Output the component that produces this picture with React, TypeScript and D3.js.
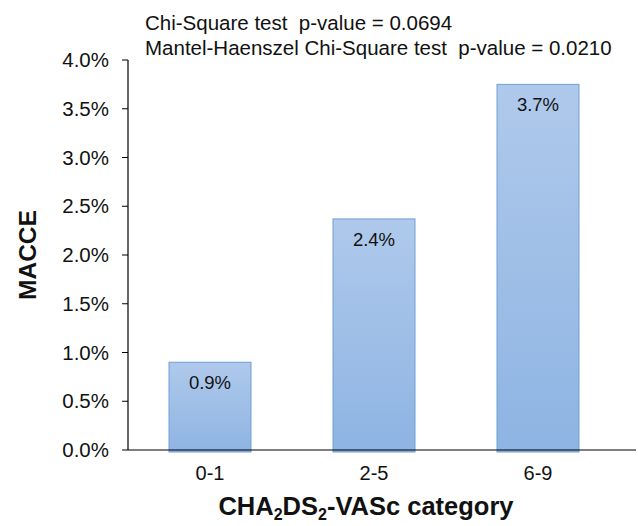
import React from "react";
import * as d3 from "d3";

const categories = ["0-1", "2-5", "6-9"];
const values = [0.009, 0.0237, 0.0375];
const valueLabels = ["0.9%", "2.4%", "3.7%"];
const yTicks = [0, 0.005, 0.01, 0.015, 0.02, 0.025, 0.03, 0.035, 0.04];
const headerLines = [
  "Chi-Square test  p-value = 0.0694",
  "Mantel-Haenszel Chi-Square test  p-value = 0.0210",
];

export default function App() {
  const W = 638, H = 526;
  const left = 128, right = 620, top = 60, bottom = 450;
  const x = d3.scaleBand<string>().domain(categories).range([left, right]).paddingInner(0.5).paddingOuter(0.25);
  const y = d3.scaleLinear().domain([0, 0.04]).range([bottom, top]);
  const font = "'Liberation Sans', Arial, sans-serif";
  return (
    <svg width={W} height={H} style={{ position: "absolute", left: 0, top: 0, background: "#fff" }} fontFamily={font}>
      <defs>
        <linearGradient id="barGrad" x1="0" y1="0" x2="0" y2="1">
          <stop offset="0%" stopColor="#afc9eb" />
          <stop offset="100%" stopColor="#8eb4e3" />
        </linearGradient>
      </defs>
      {headerLines.map((t, i) => (
        <text key={i} x={145} y={30 + i * 25} fontSize={20.5} fill="#111" style={{ whiteSpace: "pre" }}>{t}</text>
      ))}
      {categories.map((c, i) => {
        const bx = x(c)!;
        const bw = x.bandwidth();
        const by = y(values[i]);
        return (
          <g key={c}>
            <rect x={bx} y={by} width={bw} height={bottom + 2 - by} fill="url(#barGrad)" stroke="#6f9fd6" strokeWidth={1} />
            <text x={bx + bw / 2} y={by + 27} textAnchor="middle" fontSize={18.5} fill="#111">{valueLabels[i]}</text>
            <text x={bx + bw / 2} y={480} textAnchor="middle" fontSize={20} fill="#111">{c}</text>
          </g>
        );
      })}
      <line x1={left} x2={left} y1={top} y2={bottom} stroke="#000" strokeWidth={1.2} />
      <line x1={left} x2={636} y1={bottom} y2={bottom} stroke="#000" strokeWidth={1.2} />
      {yTicks.map((t) => (
        <g key={t}>
          <line x1={left - 6} x2={left} y1={y(t)} y2={y(t)} stroke="#000" strokeWidth={1} />
          <text x={109} y={y(t) + 7} textAnchor="end" fontSize={20.5} fill="#111">{d3.format(".1%")(t)}</text>
        </g>
      ))}
      <text transform="translate(36,255) rotate(-90)" textAnchor="middle" fontSize={24.5} fontWeight="bold" fill="#111">MACCE</text>
      <text x={366} y={515} textAnchor="middle" fontSize={25.5} fontWeight="bold" fill="#111">
        CHA<tspan dy={5} fontSize={16}>2</tspan><tspan dy={-5}>DS</tspan><tspan dy={5} fontSize={16}>2</tspan><tspan dy={-5}>-VASc category</tspan>
      </text>
    </svg>
  );
}
